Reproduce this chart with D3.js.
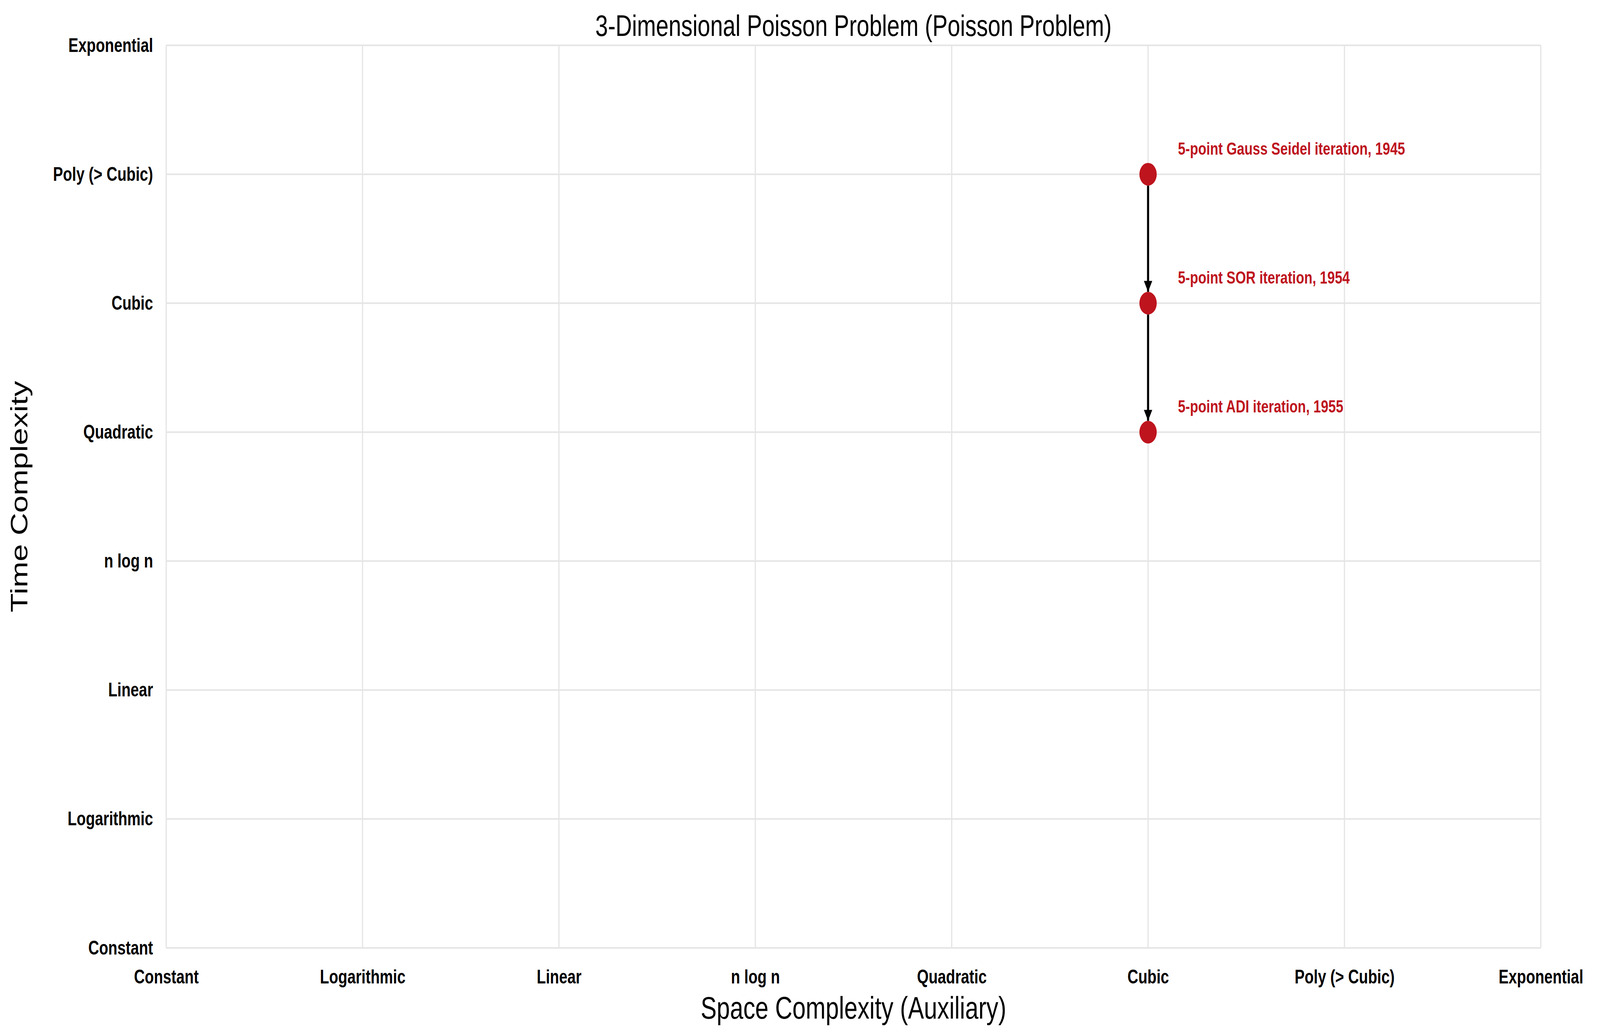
<!DOCTYPE html>
<html><head><meta charset="utf-8">
<script src="https://cdn.jsdelivr.net/npm/d3@7"></script>
<style>html,body{margin:0;padding:0;background:#fff;overflow:hidden}svg{display:block}text{font-family:"Liberation Sans",Arial,sans-serif}</style>
</head><body><div class="render"></div>
<script>
var levels = ["Constant","Logarithmic","Linear","n log n","Quadratic","Cubic","Poly (> Cubic)","Exponential"];
var algoNames = ["5-point Gauss Seidel iteration, 1945","5-point SOR iteration, 1954","5-point ADI iteration, 1955"];
var algoSpace = ["Cubic","Cubic","Cubic"];
var algoTime = ["Poly (> Cubic)","Cubic","Quadratic"];

var W = 5353, H = 2650;
var margin = {top: 116, right: 198, bottom: 223, left: 556};
var x = d3.scalePoint().domain(levels).range([margin.left, W - margin.right]);
var y = d3.scalePoint().domain(levels).range([H - margin.bottom, margin.top]);
var red = "#BE141E";

var svg = d3.select(".render").append("svg")
    .attr("width", "100vw").attr("height", "100vh")
    .attr("viewBox", "0 0 " + W + " " + H).attr("preserveAspectRatio", "none");

svg.append("defs").append("marker").attr("id","arr")
    .attr("viewBox","0 0 10 10").attr("refX",10).attr("refY",5)
    .attr("markerWidth",4).attr("markerHeight",4).attr("orient","auto").attr("markerUnits","strokeWidth")
    .append("path").attr("d","M0,0L10,5L0,10Z").attr("fill","#000");

var grid = svg.append("g").attr("stroke","#e5e5e5").attr("stroke-width",4);
levels.forEach(function(l){
    grid.append("line").attr("x1",x(l)).attr("x2",x(l)).attr("y1",margin.top).attr("y2",H-margin.bottom);
    grid.append("line").attr("y1",y(l)).attr("y2",y(l)).attr("x1",margin.left).attr("x2",W-margin.right);
});

var xAxis = svg.append("g").attr("transform","translate(0," + (H - margin.bottom) + ")")
    .call(d3.axisBottom(x).tickSize(0).tickPadding(56));
var yAxis = svg.append("g").attr("transform","translate(" + margin.left + ",0)")
    .call(d3.axisLeft(y).tickSize(0).tickPadding(44));
[xAxis, yAxis].forEach(function(a){
    a.select(".domain").remove();
    a.selectAll("text").attr("font-size",50).attr("font-weight","bold").attr("fill","#000")
        .style("font-family","'Liberation Sans',Arial,sans-serif");
});

var r = 29;
for (var i = 0; i < algoNames.length - 1; i++) {
    svg.append("line")
        .attr("x1", x(algoSpace[i])).attr("y1", y(algoTime[i]) + r)
        .attr("x2", x(algoSpace[i+1])).attr("y2", y(algoTime[i+1]) - r)
        .attr("stroke","#000").attr("stroke-width",7).attr("marker-end","url(#arr)");
}
algoNames.forEach(function(n, i){
    svg.append("circle").attr("cx", x(algoSpace[i])).attr("cy", y(algoTime[i])).attr("r", r).attr("fill", red);
    svg.append("text").attr("x", x(algoSpace[i]) + 100).attr("y", y(algoTime[i]) - 50)
        .attr("font-size",45).attr("font-weight","bold").attr("fill", red).text(n);
});

svg.append("text").attr("x",(margin.left + W - margin.right)/2).attr("y",92).attr("text-anchor","middle")
    .attr("font-size",76).text("3-Dimensional Poisson Problem (Poisson Problem)");
svg.append("text").attr("x",(margin.left + W - margin.right)/2).attr("y",2608).attr("text-anchor","middle")
    .attr("font-size",80).text("Space Complexity (Auxiliary)");
svg.append("text").attr("transform","translate(92," + ((margin.top + H - margin.bottom)/2) + ") rotate(-90)")
    .attr("text-anchor","middle").attr("font-size",80).text("Time Complexity");
</script></body></html>
